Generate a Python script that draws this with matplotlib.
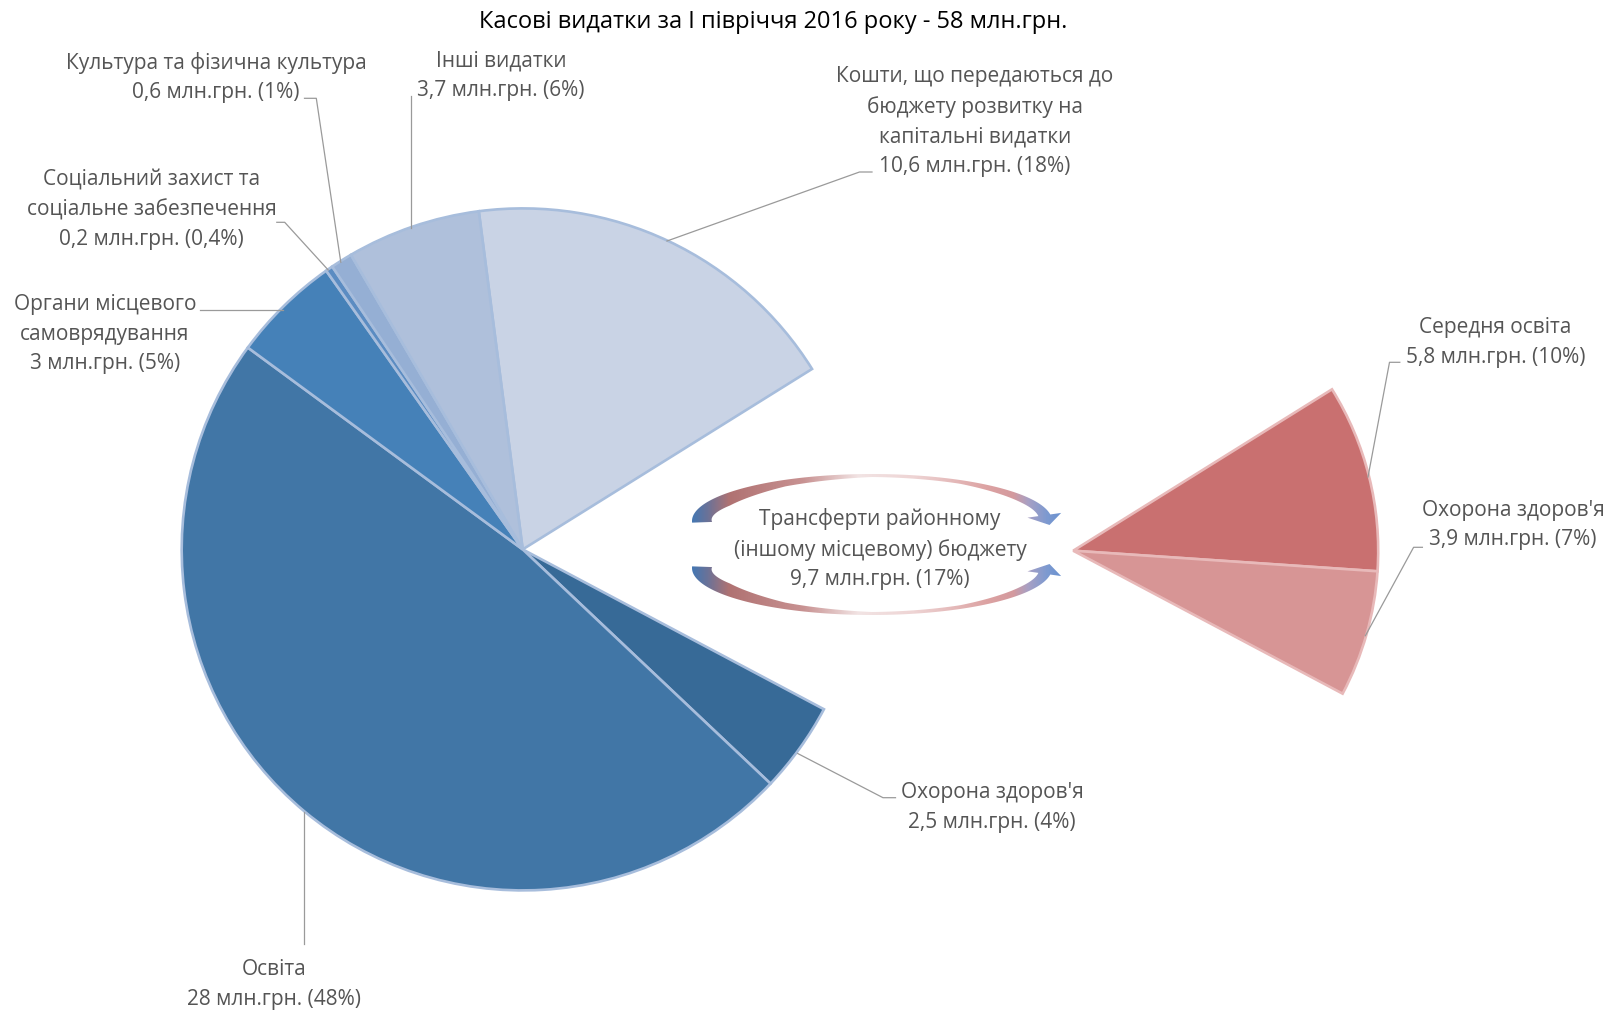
import numpy as np
import matplotlib.pyplot as plt
from matplotlib.patches import Polygon
from matplotlib.colors import LinearSegmentedColormap

plt.rcParams['font.family'] = ['Open Sans', 'DejaVu Sans']

title = 'Касові видатки за I півріччя 2016 року - 58 млн.грн.'

# основна діаграма, за годинниковою стрілкою від верхнього краю "Кошти"
names = ['Кошти, що передаються до\nбюджету розвитку на\nкапітальні видатки',
         'Трансферти районному\n(іншому місцевому) бюджету',
         "Охорона здоров'я",
         'Освіта',
         'Органи місцевого\nсамоврядування',
         'Соціальний захист та\nсоціальне забезпечення',
         'Культура та фізична культура',
         'Інші видатки']
values = [10.6, 9.7, 2.5, 28, 3, 0.2, 0.6, 3.7]
pcts = ['18%', '17%', '4%', '48%', '5%', '0,4%', '1%', '6%']
colors = ['#C9D3E5', 'white', '#376A97', '#4176A6', '#4581B8', '#5B8CC2', '#95AFD4', '#AFC0DB']

# друга діаграма - розбивка трансфертів
sub_names = ['Середня освіта', "Охорона здоров'я"]
sub_values = [5.8, 3.9]
sub_pcts = ['10%', '7%']
sub_colors = ['#C97070', '#D79595']

W, H = 1614, 1012


def Y(yp):
    # піксель зверху -> координата осі
    return H - yp


def fmt(v):
    return f'{v:g}'.replace('.', ',')


def label(name, v, p):
    return f'{name}\n{fmt(v)} млн.грн. ({p})'


fig = plt.figure(figsize=(W / 100, H / 100), dpi=100)
ax = fig.add_axes([0, 0, 1, 1])

total = sum(values)
wedges, _ = ax.pie(values, colors=colors, startangle=97.4, counterclock=False,
                   center=(522.7, Y(550.4)), radius=341, frame=True,
                   wedgeprops=dict(edgecolor='#A7BDDC', linewidth=1.9))
wedges[1].set_visible(False)
start2 = max(wedges[1].theta1, wedges[1].theta2)

sub_w, _ = ax.pie([v / total for v in sub_values], normalize=False, colors=sub_colors,
                  startangle=start2, counterclock=False,
                  center=(1073.2, Y(551.7)), radius=305, frame=True,
                  wedgeprops=dict(edgecolor='#E8B9B9', linewidth=1.9))

tc = '#555555'
fs = 15
ls = 1.535
txt = dict(ha='center', va='center', color=tc, fontsize=fs, linespacing=ls, zorder=5)

ax.text(773, Y(22), title, ha='center', va='center', color='black', fontsize=17)

ax.text(974.8, Y(121.5), label(names[0], values[0], pcts[0]), **txt)
ax.text(880, Y(549), label(names[1], values[1], pcts[1]), **txt)
ax.text(992, Y(807.5), label(names[2], values[2], pcts[2]), **txt)
ax.text(273.8, Y(984.5), label(names[3], values[3], pcts[3]), **txt)
ax.text(105, Y(334.3), label(names[4], values[4], pcts[4]), **txt)
ax.text(151.5, Y(209.3), label(names[5], values[5], pcts[5]), **txt)
ax.text(216, Y(77.3), label(names[6], values[6], pcts[6]), **txt)
ax.text(501, Y(75.8), label(names[7], values[7], pcts[7]), **txt)
ax.text(1495.6, Y(342.7), label(sub_names[0], sub_values[0], sub_pcts[0]), **txt)
ax.text(1513, Y(525), label(sub_names[1], sub_values[1], sub_pcts[1]), **txt)

# лінії-виноски
leaders = [
    [(872, 173), (859.5, 173), (667, 242)],
    [(797.7, 754.5), (883, 798.7), (895.5, 798.7)],
    [(303.6, 813), (303.6, 945)],
    [(199.7, 310.5), (282.7, 310.5)],
    [(276.8, 223.3), (284.7, 223.3), (328.2, 271)],
    [(304.5, 99.3), (316.3, 99.3), (340.8, 263.3)],
    [(411.2, 96.7), (411.2, 229)],
    [(1399.8, 363.3), (1389.5, 363.3), (1368, 478)],
    [(1422.4, 548.3), (1413.6, 548.3), (1365.4, 636.7)],
]
for pts in leaders:
    xs = [p[0] for p in pts]
    ys = [Y(p[1]) for p in pts]
    ax.plot(xs, ys, color='#9A9A9A', lw=0.9, zorder=4)

# вигнуті стрілки навколо підпису трансфертів
cmap = LinearSegmentedColormap.from_list('arr', [
    (0.0, '#4577B2'), (0.04, '#6A7298'), (0.1, '#B07272'), (0.3, '#C89292'),
    (0.45, '#F2E4E4'), (0.6, '#EED4D4'), (0.8, '#DCA2A2'), (0.87, '#D49A9E'),
    (0.91, '#A8A0C4'), (0.96, '#7E9AD0'), (1.0, '#6A92D0')])


def arrow_poly(cx, cy, a, b, th0, th1, axis_y, flip):
    # координати в пікселях (y вниз)
    th = np.linspace(th0, th1, 240)
    t = np.interp(th, [th1, 30, 60, 90, 120, 150, th0], [12, 9, 4, 3, 7, 16, 20])
    r = np.radians(th)
    ox, oy = cx + a * np.cos(r), cy - b * np.sin(r)
    ix, iy = cx + (a - t) * np.cos(r), cy - (b - t) * np.sin(r)
    po = np.array([ox[-1], oy[-1]])
    pi = np.array([ix[-1], iy[-1]])
    m = (po + pi) / 2
    u = (po - pi) / np.linalg.norm(po - pi)
    r1 = np.radians(th1)
    tg = np.array([a * np.sin(r1), b * np.cos(r1)])
    tg /= np.linalg.norm(tg)
    b1, b2, tip = m + u * 17, m - u * 17, m + tg * 11
    xs = np.concatenate([ox, [b1[0], tip[0], b2[0]], ix[::-1]])
    ys = np.concatenate([oy, [b1[1], tip[1], b2[1]], iy[::-1]])
    if flip:
        ys = 2 * axis_y - ys
    return np.column_stack([xs, Y(ys)])


for flip in (False, True):
    poly = arrow_poly(872, 522, 180, 47, 182, 8, 545.5, flip)
    patch = Polygon(poly, closed=True, facecolor='none', edgecolor='none')
    ax.add_patch(patch)
    grad = np.linspace(0, 1, 512)[None, :]
    im = ax.imshow(grad, cmap=cmap, aspect='auto', origin='lower',
                   extent=(poly[:, 0].min(), poly[:, 0].max(),
                           poly[:, 1].min(), poly[:, 1].max()), zorder=3)
    im.set_clip_path(patch)

ax.set_xlim(0, W)
ax.set_ylim(0, H)
ax.set_aspect('auto')
ax.axis('off')

fig.savefig('out.png', dpi=100, facecolor='white')
